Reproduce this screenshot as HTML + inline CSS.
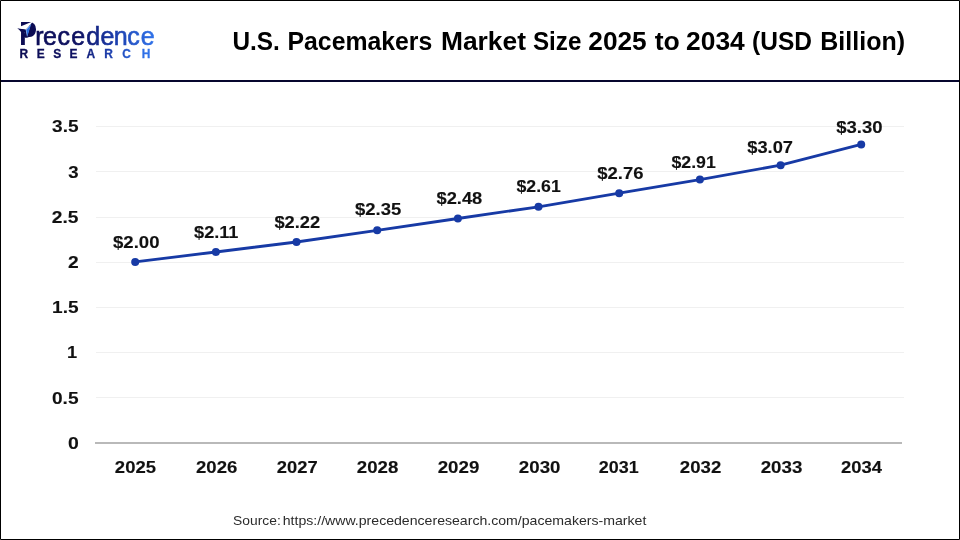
<!DOCTYPE html>
<html lang="en">
<head>
<meta charset="utf-8">
<title>U.S. Pacemakers Market Size 2025 to 2034 (USD Billion)</title>
<style>
html,body{margin:0;padding:0;background:#fff;}
body{width:960px;height:540px;overflow:hidden;}
svg{display:block;will-change:transform;font-family:"Liberation Sans",Arial,Helvetica,sans-serif;}
.b{font-weight:700;fill:#111;stroke:#111;stroke-width:0.12px;}
</style>
</head>
<body>
<svg width="960" height="540" viewBox="0 0 960 540">
<defs>
<linearGradient id="lg" gradientUnits="userSpaceOnUse" x1="17" y1="0" x2="154" y2="0">
<stop offset="0" stop-color="#0b0b52"/><stop offset="0.45" stop-color="#0e1162"/><stop offset="0.7" stop-color="#1a3aa8"/><stop offset="1" stop-color="#2f72ea"/>
</linearGradient>
</defs>
<rect x="0" y="0" width="960" height="540" fill="#fff"/>

<g fill="#f0f0f0">
<rect x="96" y="126" width="808" height="1"/>
<rect x="96" y="171" width="808" height="1"/>
<rect x="96" y="217" width="808" height="1"/>
<rect x="96" y="262" width="808" height="1"/>
<rect x="96" y="307" width="808" height="1"/>
<rect x="96" y="352" width="808" height="1"/>
<rect x="96" y="397" width="808" height="1"/>
</g>
<rect x="95" y="442" width="807" height="2" fill="#b9b9b9"/>
<g class="b" font-size="16.6">
<text x="52.06" y="131.9" textLength="26.47" lengthAdjust="spacingAndGlyphs">3.5</text>
<text x="68.32" y="177.9" textLength="10.35" lengthAdjust="spacingAndGlyphs">3</text>
<text x="51.83" y="222.9" textLength="26.70" lengthAdjust="spacingAndGlyphs">2.5</text>
<text x="68.08" y="267.9" textLength="10.69" lengthAdjust="spacingAndGlyphs">2</text>
<text x="52.05" y="312.9" textLength="26.48" lengthAdjust="spacingAndGlyphs">1.5</text>
<text x="67.10" y="357.9" textLength="10.16" lengthAdjust="spacingAndGlyphs">1</text>
<text x="52.00" y="403.9" textLength="26.54" lengthAdjust="spacingAndGlyphs">0.5</text>
<text x="67.98" y="448.9" textLength="10.82" lengthAdjust="spacingAndGlyphs">0</text>
</g>
<g class="b" font-size="16.8">
<text x="114.86" y="473.0" textLength="41.16" lengthAdjust="spacingAndGlyphs">2025</text>
<text x="196.06" y="473.0" textLength="41.31" lengthAdjust="spacingAndGlyphs">2026</text>
<text x="276.86" y="473.0" textLength="40.95" lengthAdjust="spacingAndGlyphs">2027</text>
<text x="356.85" y="473.0" textLength="41.52" lengthAdjust="spacingAndGlyphs">2028</text>
<text x="437.65" y="473.0" textLength="41.75" lengthAdjust="spacingAndGlyphs">2029</text>
<text x="518.85" y="473.0" textLength="41.62" lengthAdjust="spacingAndGlyphs">2030</text>
<text x="598.88" y="473.0" textLength="39.92" lengthAdjust="spacingAndGlyphs">2031</text>
<text x="679.85" y="473.0" textLength="41.39" lengthAdjust="spacingAndGlyphs">2032</text>
<text x="760.65" y="473.0" textLength="41.73" lengthAdjust="spacingAndGlyphs">2033</text>
<text x="841.06" y="473.0" textLength="41.04" lengthAdjust="spacingAndGlyphs">2034</text>
</g>
<polyline fill="none" stroke="#173aa5" stroke-width="2.8" stroke-linejoin="round" points="135.2,261.9 215.9,252.0 296.5,242.0 377.2,230.3 457.9,218.5 538.5,206.8 619.2,193.2 699.9,179.6 780.6,165.2 861.2,144.4"/>
<g fill="#173aa5">
<circle cx="135.2" cy="261.9" r="4"/>
<circle cx="215.9" cy="252.0" r="4"/>
<circle cx="296.5" cy="242.0" r="4"/>
<circle cx="377.2" cy="230.3" r="4"/>
<circle cx="457.9" cy="218.5" r="4"/>
<circle cx="538.5" cy="206.8" r="4"/>
<circle cx="619.2" cy="193.2" r="4"/>
<circle cx="699.9" cy="179.6" r="4"/>
<circle cx="780.6" cy="165.2" r="4"/>
<circle cx="861.2" cy="144.4" r="4"/>
</g>
<g class="b" font-size="16.6">
<text x="113.06" y="247.8" textLength="46.46" lengthAdjust="spacingAndGlyphs">$2.00</text>
<text x="194.07" y="237.8" textLength="44.33" lengthAdjust="spacingAndGlyphs">$2.11</text>
<text x="274.46" y="227.5" textLength="45.77" lengthAdjust="spacingAndGlyphs">$2.22</text>
<text x="355.06" y="215.3" textLength="46.26" lengthAdjust="spacingAndGlyphs">$2.35</text>
<text x="436.46" y="203.7" textLength="45.80" lengthAdjust="spacingAndGlyphs">$2.48</text>
<text x="516.47" y="191.7" textLength="44.33" lengthAdjust="spacingAndGlyphs">$2.61</text>
<text x="597.26" y="178.7" textLength="46.21" lengthAdjust="spacingAndGlyphs">$2.76</text>
<text x="671.47" y="167.5" textLength="44.33" lengthAdjust="spacingAndGlyphs">$2.91</text>
<text x="747.26" y="152.5" textLength="45.74" lengthAdjust="spacingAndGlyphs">$3.07</text>
<text x="836.16" y="132.7" textLength="46.41" lengthAdjust="spacingAndGlyphs">$3.30</text>
</g>
<g font-weight="700" fill="#000" font-size="25.6">
<text x="232.54" y="50.2" textLength="47.34" lengthAdjust="spacingAndGlyphs">U.S.</text>
<text x="287.54" y="50.2" textLength="144.72" lengthAdjust="spacingAndGlyphs">Pacemakers</text>
<text x="440.94" y="50.2" textLength="84.99" lengthAdjust="spacingAndGlyphs">Market</text>
<text x="532.96" y="50.2" textLength="48.41" lengthAdjust="spacingAndGlyphs">Size</text>
<text x="588.29" y="50.2" textLength="58.44" lengthAdjust="spacingAndGlyphs">2025</text>
<text x="654.68" y="50.2" textLength="25.11" lengthAdjust="spacingAndGlyphs">to</text>
<text x="686.09" y="50.2" textLength="58.66" lengthAdjust="spacingAndGlyphs">2034</text>
<text x="752.08" y="50.2" textLength="59.95" lengthAdjust="spacingAndGlyphs">(USD</text>
<text x="820.33" y="50.2" textLength="84.67" lengthAdjust="spacingAndGlyphs">Billion)</text>
</g>
<g fill="#2b2b2b" font-size="13.3">
<text x="233.12" y="525.0" textLength="47.64" lengthAdjust="spacingAndGlyphs">Source:</text>
<text x="282.77" y="525.0" textLength="363.58" lengthAdjust="spacingAndGlyphs">https://www.precedenceresearch.com/pacemakers-market</text>
</g>
<rect x="0" y="80" width="960" height="2" fill="#06062e"/>
<path d="M0.5 0.5H959.5V539.5H0.5Z" fill="none" stroke="#000" stroke-width="1"/>
<g id="logo" fill="url(#lg)">
<text y="44.9" font-size="25" stroke="url(#lg)" stroke-width="0.6"><tspan x="19.23" y="44.5" font-size="32.4" font-weight="700" stroke="none" textLength="17.68" lengthAdjust="spacingAndGlyphs">P</tspan><tspan y="44.9" x="35.16 43.02 57.45 71.27 86.28 100.62 113.65 127.35 140.82">recedence</tspan></text>
<text transform="scale(0.95,1)" y="57.7" font-size="12.6" font-weight="700" stroke="url(#lg)" stroke-width="0.3" x="20.55 38.68 56.18 73.25 91.09 109.66 128.73 149.19">RESEARCH</text>
</g>
<g id="plane">
<path d="M32.6 21.6 L20.4 26.6 L15.5 27.4 L17.3 28.3 L25.8 29.7 L31.4 23.6 Z" fill="#fff"/>
<path d="M17.3 28.3 L25.8 29.7 L25.8 32 L21 32 Q19.6 29.9 17.3 28.3 Z" fill="#0b0b52"/>
<path d="M24.8 29.6 L25.8 29.7 L27.3 37.8 L24.8 37.8 Z" fill="#0b0b52"/>
<path d="M25.8 29.7 L31.9 23.0 L32.6 23.6 L28.3 37.6 L27.2 37.4 Z" fill="#0b0b52"/>
<path d="M31.7 23.1 L25.7 29.7 L27.1 36.9 Z" fill="#a8c8f8"/>
<path d="M31.3 24.2 L26.4 30.0 L27.4 36.3 Z" fill="#2a6fe0"/>
<path d="M27.4 37.3 L31.4 23.6 L34 26 L34.5 31 L31 35.5 Z" fill="#0b0b52"/>
</g>
</svg>
</body>
</html>
